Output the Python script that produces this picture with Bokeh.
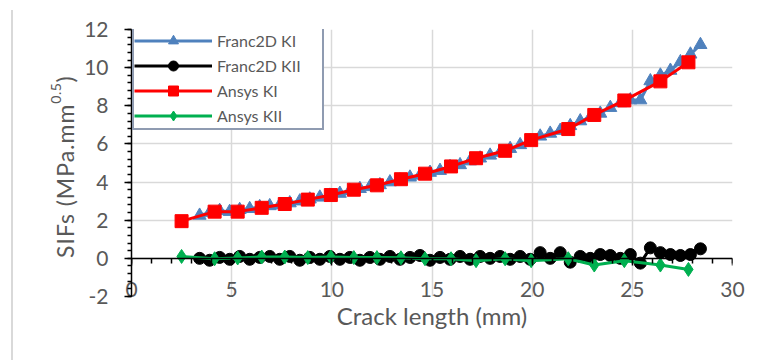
from bokeh.plotting import figure
from bokeh.models import (Range1d, FixedTicker, LinearAxis, Legend, LegendItem,
                          Div, CustomJSTickFormatter)
from bokeh.layouts import row
from bokeh.embed import file_html
from bokeh.resources import INLINE

# ---------------- data ----------------
franc_x = [3.4, 3.9, 4.4, 4.9, 5.4, 5.9, 6.4, 6.9, 7.4, 7.9, 8.4, 8.9, 9.4, 9.9,
           10.4, 10.9, 11.4, 11.9, 12.4, 12.9, 13.4, 13.9, 14.4, 14.9, 15.4, 15.9,
           16.4, 16.9, 17.4, 17.9, 18.4, 18.9, 19.4, 19.9, 20.4, 20.9, 21.4, 21.9,
           22.4, 22.9, 23.4, 23.9, 24.4, 24.9, 25.4, 25.9, 26.4, 26.9, 27.4, 27.9, 28.4]
franc_ki = [2.25, 2.40, 2.50, 2.45, 2.55, 2.60, 2.70, 2.75, 2.80, 2.90, 3.00, 3.10,
            3.20, 3.30, 3.40, 3.55, 3.65, 3.75, 3.85, 4.00, 4.10, 4.25, 4.35, 4.50,
            4.60, 4.80, 4.90, 5.10, 5.25, 5.40, 5.55, 5.75, 5.95, 6.15, 6.40, 6.55,
            6.70, 6.95, 7.20, 7.40, 7.60, 7.90, 8.15, 8.30, 8.30, 9.30, 9.60, 9.85,
            10.30, 10.70, 11.20]
franc_kii = [0.0, -0.1, 0.05, -0.05, 0.1, -0.05, 0.05, 0.1, -0.05, 0.1, -0.1, 0.05,
             -0.05, 0.1, -0.05, 0.05, -0.1, 0.05, -0.05, 0.1, -0.05, 0.05, 0.15, -0.1,
             0.05, -0.05, 0.1, -0.05, 0.1, 0.0, 0.1, -0.05, 0.1, -0.05, 0.3, 0.0, 0.3,
             -0.2, 0.1, 0.0, 0.2, 0.15, 0.0, 0.2, -0.25, 0.55, 0.3, 0.2, 0.15, 0.2, 0.5]

ansys_x = [2.5, 4.15, 5.3, 6.5, 7.65, 8.8, 9.95, 11.1, 12.25, 13.45, 14.65, 15.95,
           17.2, 18.65, 19.95, 21.8, 23.1, 24.6, 26.4, 27.8]
ansys_ki = [1.95, 2.45, 2.45, 2.65, 2.85, 3.08, 3.32, 3.6, 3.83, 4.15, 4.44, 4.82,
            5.25, 5.64, 6.2, 6.78, 7.52, 8.28, 9.28, 10.28]
ansys_kii = [0.1, -0.02, 0.02, 0.07, 0.07, 0.04, 0.07, 0.04, 0.04, 0.03, -0.02, -0.02,
             -0.12, -0.02, -0.12, -0.02, -0.35, -0.12, -0.35, -0.58]

x_ticks = [0, 5, 10, 15, 20, 25, 30]
x_tick_labels = ["0", "5", "10", "15", "20", "25", "30"]
x_minor = list(range(0, 31))
y_ticks = [-2, 0, 2, 4, 6, 8, 10, 12]
y_tick_labels = ["-2", "0", "2", "4", "6", "8", "10", "12"]
y_minor = [-2 + 0.4 * i for i in range(36)]

series_names = ["Franc2D KI", "Franc2D KII", "Ansys KI", "Ansys KII"]
x_title = "Crack length (mm)"
y_title_main = "SIFs (MPa.mm"
y_title_sup = "0.5"
y_title_end = ")"

# ---------------- styles ----------------
FONT = "Lato"
TXT = "#595959"
GRID = "#d9d9d9"
BLUE = "#4f81bd"
RED = "#ff0000"
GREEN = "#00b050"
BLACK = "#000000"

p = figure(width=670, height=350, output_backend="svg", toolbar_location=None,
           x_range=Range1d(0, 30), y_range=Range1d(-2, 12),
           min_border_left=53, min_border_right=16, min_border_top=29,
           min_border_bottom=54)
p.outline_line_color = None
p.background_fill_color = "white"
p.border_fill_color = "white"

# grid
p.xgrid.ticker = FixedTicker(ticks=x_ticks)
p.ygrid.ticker = FixedTicker(ticks=y_ticks)
for g in (p.xgrid, p.ygrid):
    g.grid_line_color = GRID
    g.grid_line_width = 1.5

# main bottom axis: labels only
xa = p.xaxis[0]
xa.ticker = FixedTicker(ticks=x_ticks)
xa.major_label_overrides = dict(zip(x_ticks, x_tick_labels))
xa.axis_line_color = None
xa.major_tick_line_color = None
xa.minor_tick_line_color = None
xa.major_label_text_font = FONT
xa.major_label_text_font_size = "21px"
xa.major_label_text_color = TXT
xa.major_label_standoff = -21
xa.axis_label = x_title
xa.axis_label_text_font = FONT
xa.axis_label_text_font_size = "24px"
xa.axis_label_text_font_style = "normal"
xa.axis_label_text_color = TXT
xa.axis_label_standoff = 1

# x axis line crossing at y = 0
x0axis = LinearAxis(fixed_location=0,
                    ticker=FixedTicker(ticks=x_ticks, minor_ticks=x_minor),
                    formatter=CustomJSTickFormatter(code="return ''"))
x0axis.axis_line_color = BLACK
x0axis.axis_line_width = 1.5
x0axis.major_tick_line_color = BLACK
x0axis.major_tick_line_width = 1.5
x0axis.major_tick_out = 7
x0axis.major_tick_in = 0
x0axis.minor_tick_line_color = BLACK
x0axis.minor_tick_line_width = 1.5
x0axis.minor_tick_out = 5
x0axis.minor_tick_in = 0
x0axis.major_label_text_font_size = "1px"
p.add_layout(x0axis, "below")

# y axis
ya = p.yaxis[0]
ya.ticker = FixedTicker(ticks=y_ticks, minor_ticks=y_minor)
ya.major_label_overrides = dict(zip(y_ticks, y_tick_labels))
ya.axis_line_color = BLACK
ya.axis_line_width = 1.5
ya.major_tick_line_color = BLACK
ya.major_tick_line_width = 1.5
ya.major_tick_out = 7
ya.major_tick_in = 0
ya.minor_tick_line_color = BLACK
ya.minor_tick_line_width = 1.5
ya.minor_tick_out = 4
ya.minor_tick_in = 0
ya.major_label_text_font = FONT
ya.major_label_text_font_size = "21px"
ya.major_label_text_color = TXT
ya.major_label_standoff = 16

# series
l1 = p.line(franc_x, franc_ki, line_color=BLUE, line_width=3)
s1 = p.scatter(franc_x, franc_ki, marker="triangle", size=13, fill_color=BLUE,
               line_color=BLUE)
l2 = p.line(franc_x, franc_kii, line_color=BLACK, line_width=3)
s2 = p.scatter(franc_x, franc_kii, marker="circle", size=12, fill_color=BLACK,
               line_color=BLACK)
l3 = p.line(ansys_x, ansys_ki, line_color=RED, line_width=3)
s3 = p.scatter(ansys_x, ansys_ki, marker="square", size=13, fill_color=RED,
               line_color=RED)
l4 = p.line(ansys_x, ansys_kii, line_color=GREEN, line_width=3)
s4 = p.scatter(ansys_x, ansys_kii, marker="diamond", size=14,
               fill_color=GREEN, line_color=GREEN)

legend = Legend(items=[
    LegendItem(label=series_names[0], renderers=[l1, s1]),
    LegendItem(label=series_names[1], renderers=[l2, s2]),
    LegendItem(label=series_names[2], renderers=[l3, s3]),
    LegendItem(label=series_names[3], renderers=[l4, s4]),
], location=(1, 166))
legend.glyph_width = 78
legend.glyph_height = 25
legend.spacing = 0
legend.padding = 0
legend.margin = 0
legend.label_standoff = 5
legend.label_width = 105
legend.label_text_font = FONT
legend.label_text_font_size = "16px"
legend.label_text_color = TXT
legend.border_line_color = "#1f3864"
legend.border_line_width = 2
legend.background_fill_color = "white"
legend.background_fill_alpha = 1.0
p.add_layout(legend)

# y axis title (with superscript), as real text
ytitle_html = (
    '<div style="width:26px;height:333px;writing-mode:vertical-rl;'
    'transform:rotate(180deg);text-align:center;font-family:Lato;'
    'font-size:23px;letter-spacing:1px;color:%s;line-height:26px;'
    'white-space:nowrap;">'
    '%s<span style="font-size:14px;vertical-align:9px;line-height:0;'
    'letter-spacing:0.5px">%s</span>%s</div>'
    % (TXT, y_title_main, y_title_sup, y_title_end)
)
ytitle = Div(text=ytitle_html, width=26, height=345, margin=(0, 0, 0, 39))

edge = Div(width=2, height=350, margin=(10, 0, 0, 11),
           styles={"background-color": "#d9d9d9"})
layout = row(edge, ytitle, p)

open("out.html", "w").write(file_html(layout, INLINE))
